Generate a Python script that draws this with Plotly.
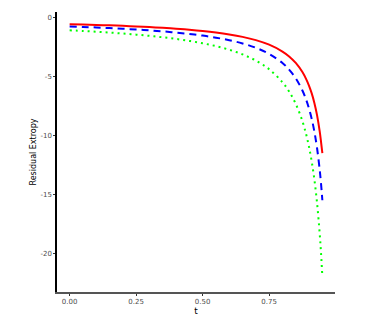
import plotly.graph_objects as go

t = [0, 0.05, 0.1, 0.15, 0.2, 0.25, 0.3, 0.35, 0.4, 0.45, 0.5, 0.55, 0.6, 0.65, 0.7,
     0.75, 0.8, 0.825, 0.85, 0.875, 0.89, 0.9, 0.91, 0.92, 0.93, 0.94, 0.945, 0.95]

red = [-0.58, -0.611, -0.644, -0.682, -0.725, -0.773, -0.829, -0.892, -0.967, -1.055,
       -1.16, -1.289, -1.45, -1.657, -1.933, -2.32, -2.9, -3.314, -3.867, -4.64,
       -5.273, -5.8, -6.444, -7.25, -8.286, -9.667, -10.545, -11.5]

blue = [-0.775, -0.816, -0.861, -0.912, -0.969, -1.033, -1.107, -1.192, -1.292, -1.409,
        -1.55, -1.722, -1.938, -2.214, -2.583, -3.1, -3.875, -4.429, -5.167, -6.2,
        -7.045, -7.75, -8.611, -9.688, -11.071, -12.917, -14.09, -15.5]

green = [-1.1, -1.158, -1.222, -1.294, -1.375, -1.467, -1.571, -1.692, -1.833, -2.0,
         -2.2, -2.444, -2.75, -3.143, -3.667, -4.4, -5.5, -6.286, -7.333, -8.8,
         -10.0, -11.0, -12.222, -13.75, -15.714, -18.333, -20.0, -22.0]

x_ticks = [0, 0.25, 0.5, 0.75]
x_ticklabels = ["0.00", "0.25", "0.50", "0.75"]
y_ticks = [0, -5, -10, -15, -20]
y_ticklabels = ["0", "-5", "-10", "-15", "-20"]

fig = go.Figure()
fig.add_trace(go.Scatter(x=t, y=green, mode="lines", line=dict(color="#00FF00", width=2, dash="2px,4px"), line_shape="spline"))
fig.add_trace(go.Scatter(x=t, y=blue, mode="lines", line=dict(color="#0000FF", width=2, dash="7px,5px"), line_shape="spline"))
fig.add_trace(go.Scatter(x=t, y=red, mode="lines", line=dict(color="#FF0000", width=2), line_shape="spline"))

# page body has an 8px margin, so the figure is sized/offset to compensate
fig.update_layout(
    width=364, height=311,
    margin=dict(l=49, r=37, t=4, b=18),
    plot_bgcolor="white", paper_bgcolor="white",
    showlegend=False,
    font=dict(family="DejaVu Sans", size=7, color="#4d4d4d"),
)
fig.update_xaxes(
    range=[-0.0475, 0.9975], tickvals=x_ticks, ticktext=x_ticklabels,
    showgrid=False, zeroline=False, showline=True, linecolor="#555555", linewidth=1.5,
    ticks="outside", ticklen=2, tickcolor="#333333",
    title=dict(text="t", font=dict(size=9, color="black"), standoff=3),
)
fig.update_yaxes(
    range=[-23.27, 0.45], tickvals=y_ticks, ticktext=y_ticklabels,
    showgrid=False, zeroline=False, showline=True, linecolor="black", linewidth=1.5,
    ticks="outside", ticklen=2, tickcolor="#333333",
    title=dict(text="Residual Extropy", font=dict(size=8, color="black"), standoff=3),
)

fig.write_html("out.html")
